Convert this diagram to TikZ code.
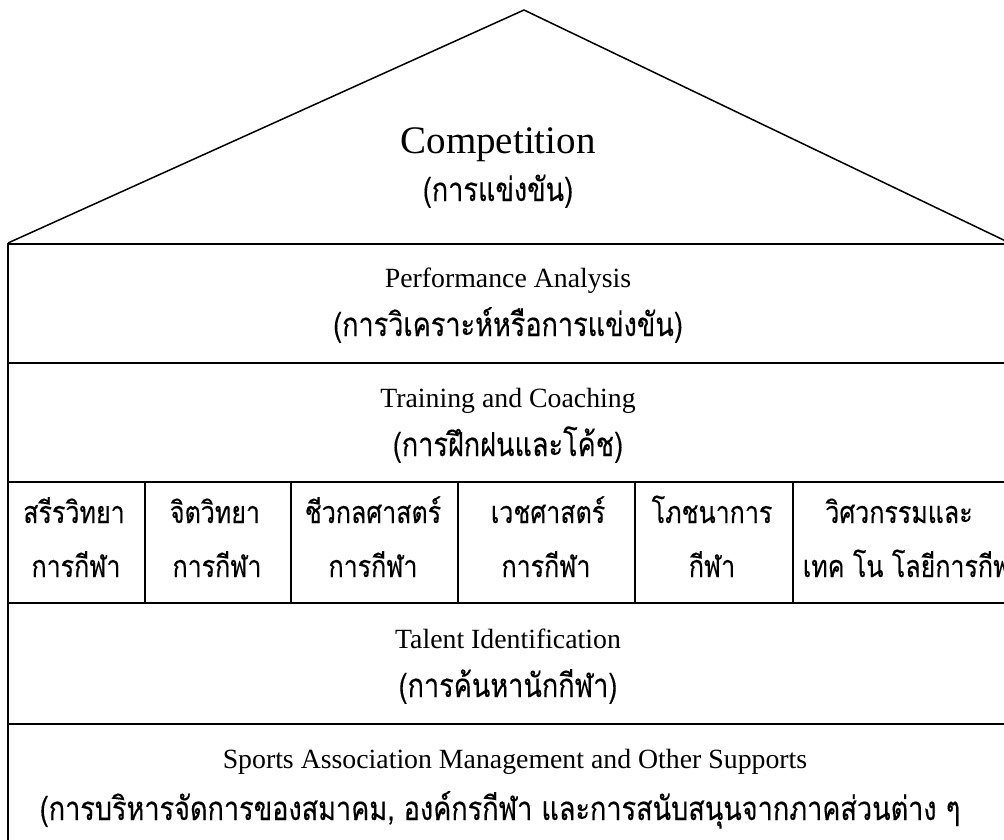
\documentclass[tikz,border=0pt]{standalone}
\usepackage{fontspec}
\setmainfont{Liberation Serif}
\newfontfamily\thaifont[Script=Thai,FakeStretch=0.82,FakeBold=0.3]{Loma}
\begin{document}
\begin{tikzpicture}[x=1pt,y=-1pt,line width=1.5pt,
  en/.style={font=\fontsize{27.8}{30}\selectfont,anchor=base,inner sep=0pt},
  big/.style={font=\fontsize{39}{42}\selectfont,anchor=base,inner sep=0pt},
  th/.style={font=\thaifont\fontsize{33}{36}\selectfont,anchor=base,inner sep=0pt},
  pil/.style={font=\thaifont\fontsize{30.5}{33}\selectfont,anchor=base,inner sep=0pt}]
\useasboundingbox (0,0) rectangle (1004,839);
\clip (0,0) rectangle (1004,839);
% roof
\coordinate (apex) at (524,10);
\coordinate (bl) at (8,243);
\coordinate (br) at (1014,245);
\draw (bl) -- (apex) -- (br);
% horizontal separators
\coordinate (l1) at (8,244);  \coordinate (r1) at (1010,244);
\coordinate (l2) at (8,363);  \coordinate (r2) at (1010,363);
\coordinate (l3) at (8,482);  \coordinate (r3) at (1010,482);
\coordinate (l4) at (8,603);  \coordinate (r4) at (1010,603);
\coordinate (l5) at (8,724);  \coordinate (r5) at (1010,724);
\coordinate (lb) at (8,850);
\draw (l1) -- (r1);
\draw (l2) -- (r2);
\draw (l3) -- (r3);
\draw (l4) -- (r4);
\draw (l5) -- (r5);
\draw (bl) -- (lb);
% pillar dividers
\foreach \x in {145,291,458,635,793}{
  \draw (\x,482) -- (\x,603);
}
% texts
\node[big] (comp) at (498,153) {Competition};
\node[th] (compth) at (498,201) {(การแข่งขัน)};
\node[en] (perf) at (508,287) {Performance Analysis};
\node[th] (perfth) at (508,336) {(การวิเคราะห์หรือการแข่งขัน)};
\node[en] (train) at (508,407) {Training and Coaching};
\node[th] (trainth) at (508,456) {(การฝึกฝนและโค้ช)};
\node[pil] (p1a) at (74,523) {สรีรวิทยา};
\node[pil] (p1b) at (76,577) {การกีฬา};
\node[pil] (p2a) at (215,523) {จิตวิทยา};
\node[pil] (p2b) at (217,577) {การกีฬา};
\node[pil] (p3a) at (373,523) {ชีวกลศาสตร์};
\node[pil] (p3b) at (373,577) {การกีฬา};
\node[pil] (p4a) at (548,523) {เวชศาสตร์};
\node[pil] (p4b) at (546,577) {การกีฬา};
\node[pil] (p5a) at (712,523) {โภชนาการ};
\node[pil] (p5b) at (712,577) {กีฬา};
\node[pil] (p6a) at (899,523) {วิศวกรรมและ};
\node[pil,anchor=base west] (p6b) at (802,577) {เทค โน โลยีการกีฬา};
\node[en] (tal) at (508,648) {Talent Identification};
\node[th] (talth) at (508,697) {(การค้นหานักกีฬา)};
\node[en] (spo) at (515,768) {Sports Association Management and Other Supports};
\node[th] (spoth) at (500,820) {(การบริหารจัดการของสมาคม, องค์กรกีฬา และการสนับสนุนจากภาคส่วนต่าง ๆ};
\end{tikzpicture}
\end{document}
